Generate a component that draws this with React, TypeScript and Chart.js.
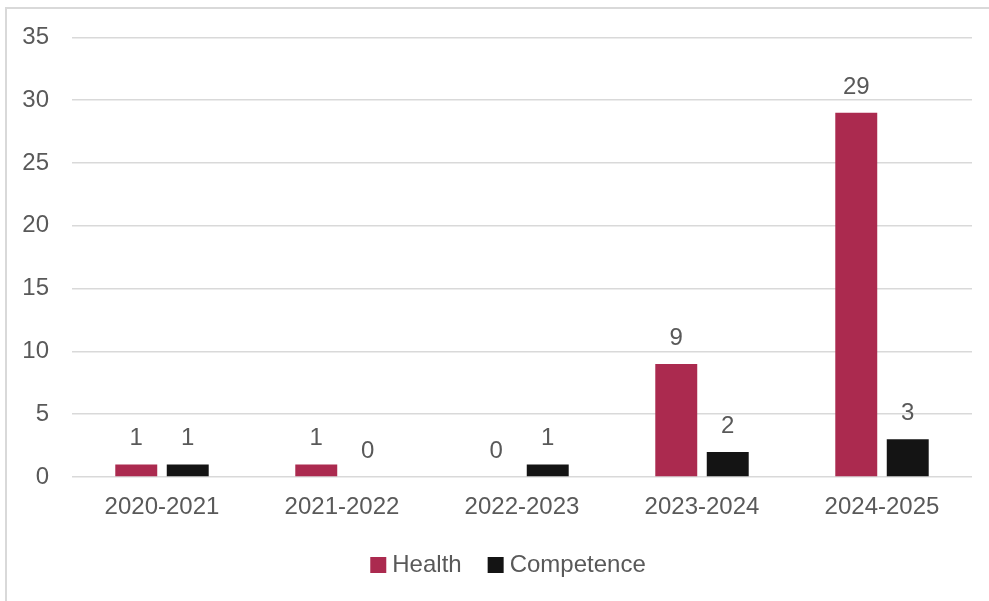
import React, { useEffect, useRef } from "react";
import { Chart, registerables } from "chart.js";

Chart.register(...registerables);

const categories = ["2020-2021", "2021-2022", "2022-2023", "2023-2024", "2024-2025"];
const healthValues = [1, 1, 0, 9, 29];
const competenceValues = [1, 0, 1, 2, 3];
const seriesNames = ["Health", "Competence"];
const yTicks = [0, 5, 10, 15, 20, 25, 30, 35];

const FONT = "'Liberation Sans', Arial, sans-serif";
const TEXT = "#595959";
const COLORS = ["#AB2A4F", "#141414"];

const dataLabels = {
  id: "dataLabels",
  afterDatasetsDraw(chart: any) {
    const ctx = chart.ctx;
    ctx.save();
    ctx.font = `24px ${FONT}`;
    ctx.fillStyle = TEXT;
    ctx.textAlign = "center";
    ctx.textBaseline = "alphabetic";
    chart.data.datasets.forEach((ds: any, i: number) => {
      const meta = chart.getDatasetMeta(i);
      meta.data.forEach((bar: any, j: number) => {
        ctx.fillText(String(ds.data[j]), bar.x, bar.y - 19);
      });
    });
    ctx.restore();
  },
};

const customLegend = {
  id: "customLegend",
  afterDraw(chart: any) {
    const ctx = chart.ctx;
    ctx.save();
    ctx.font = `24px ${FONT}`;
    const box = 16;
    const gap = 6;
    const itemGap = 26;
    const items = chart.data.datasets.map((ds: any) => ({
      label: ds.label,
      color: ds.backgroundColor,
      w: box + gap + ctx.measureText(ds.label).width,
    }));
    const total = items.reduce((s: number, it: any) => s + it.w, 0) + itemGap * (items.length - 1);
    let x = 508 - total / 2;
    const cy = 565;
    items.forEach((it: any) => {
      ctx.fillStyle = it.color;
      ctx.fillRect(x, cy - box / 2, box, box);
      ctx.fillStyle = TEXT;
      ctx.textAlign = "left";
      ctx.textBaseline = "middle";
      ctx.fillText(it.label, x + box + gap, cy);
      x += it.w + itemGap;
    });
    ctx.restore();
  },
};

export default function App() {
  const ref = useRef<HTMLCanvasElement>(null);
  useEffect(() => {
    if (!ref.current) return;
    const chart = new Chart(ref.current, {
      type: "bar",
      data: {
        labels: categories,
        datasets: [
          { label: seriesNames[0], data: healthValues, backgroundColor: COLORS[0], categoryPercentage: 0.572, barPercentage: 0.815 },
          { label: seriesNames[1], data: competenceValues, backgroundColor: COLORS[1], categoryPercentage: 0.572, barPercentage: 0.815 },
        ],
      },
      options: {
        animation: false,
        responsive: false,
        maintainAspectRatio: false,
        layout: { padding: { left: 0, right: 17, top: 36, bottom: 64 } },
        plugins: {
          legend: { display: false },
          tooltip: { enabled: false },
        },
        scales: {
          x: {
            grid: { display: false, drawTicks: false },
            border: { display: false },
            ticks: { color: TEXT, font: { family: FONT, size: 24 }, padding: 16, maxRotation: 0 },
            afterFit(scale: any) {
              scale.height = 60;
            },
          },
          y: {
            min: 0,
            max: 35,
            afterBuildTicks(scale: any) {
              scale.ticks = yTicks.map((v) => ({ value: v }));
            },
            grid: { color: "#D9D9D9", lineWidth: 1.5, drawTicks: false },
            border: { display: false },
            ticks: { color: TEXT, font: { family: FONT, size: 24 }, padding: 23 },
            afterFit(scale: any) {
              scale.width = 72;
            },
          },
        },
      },
      plugins: [dataLabels, customLegend],
    });
    return () => chart.destroy();
  }, []);

  return (
    <div style={{ position: "fixed", left: 0, top: 0, width: 989, height: 601, background: "#fff" }}>
      <div
        style={{
          position: "absolute",
          left: 5,
          top: 7,
          right: 0,
          bottom: 0,
          borderLeft: "2px solid #D9D9D9",
          borderTop: "2px solid #D9D9D9",
        }}
      />
      <canvas ref={ref} width={989} height={601} style={{ position: "absolute", left: 0, top: 0 }} />
    </div>
  );
}
